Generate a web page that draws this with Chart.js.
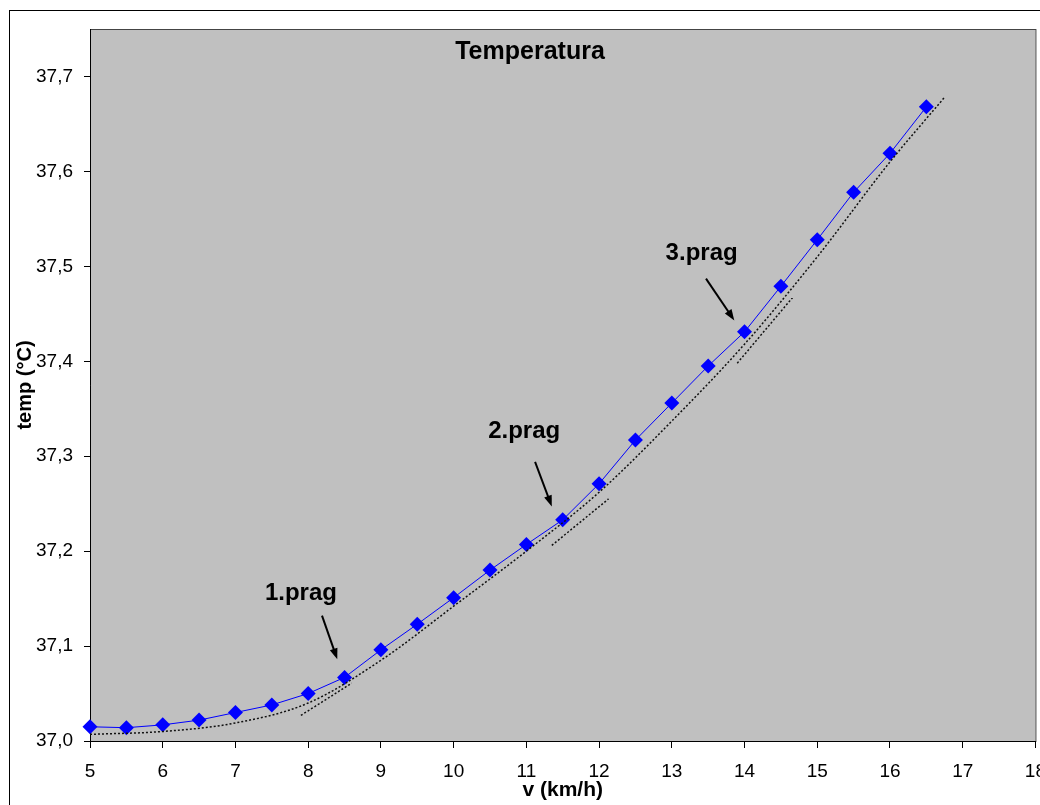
<!DOCTYPE html>
<html>
<head>
<meta charset="utf-8">
<script src="https://cdn.jsdelivr.net/npm/chart.js@4/dist/chart.umd.min.js"></script>
<style>
  html, body { margin: 0; padding: 0; background: #fff; overflow: hidden; width: 1040px; height: 805px; }
  canvas { display: block; }
</style>
</head>
<body>
<canvas id="chart" width="1058" height="805"></canvas>
<script>
// speed (km/h) and measured temperature
var speeds = [5, 5.5, 6, 6.5, 7, 7.5, 8, 8.5, 9, 9.5, 10, 10.5, 11, 11.5, 12, 12.5, 13, 13.5, 14, 14.5, 15, 15.5, 16, 16.5];
var temps = [37.015, 37.014, 37.017, 37.022, 37.030, 37.038, 37.050, 37.067, 37.096, 37.123, 37.151, 37.180, 37.207, 37.233, 37.271, 37.317, 37.356, 37.395, 37.431, 37.479, 37.528, 37.578, 37.619, 37.668];

// polynomial trend line (dotted)
var trendX = [5, 6, 7, 8, 9, 10, 11, 12, 13, 14, 15, 16, 16.75];
var trendY = [37.007, 37.010, 37.019, 37.040, 37.085, 37.142, 37.200, 37.262, 37.337, 37.418, 37.510, 37.610, 37.678];

// short tangent segments at each threshold
var seg1X = [7.9, 8.6], seg1Y = [37.027, 37.061];
var seg2X = [11.35, 12.13], seg2Y = [37.206, 37.255];
var seg3X = [13.9, 14.67], seg3Y = [37.398, 37.468];

var xTicks = [5, 6, 7, 8, 9, 10, 11, 12, 13, 14, 15, 16, 17, 18];
var yTicks = [37.0, 37.1, 37.2, 37.3, 37.4, 37.5, 37.6, 37.7];

// threshold labels: text position, arrow start, arrow tip (data units)
var pragLabels = ['1.prag', '2.prag', '3.prag'];
var pragText = [[7.90, 37.155], [10.97, 37.326], [13.41, 37.514]];
var pragFrom = [[8.19, 37.132], [11.12, 37.294], [13.47, 37.487]];
var pragTo = [[8.40, 37.086], [11.35, 37.247], [13.86, 37.443]];

function pts(xs, ys) {
    return xs.map(function (x, i) { return {x: x, y: ys[i]}; });
}

function dotted(data) {
    return {
        data: data, borderColor: '#111', borderWidth: 1.5, borderDash: [2, 2],
        pointRadius: 0, fill: false, tension: 0.4, cubicInterpolationMode: 'monotone'
    };
}

var FONT = '"Liberation Sans", Arial, sans-serif';

var decor = {
    id: 'decor',
    beforeDraw: function (chart) {
        var ctx = chart.ctx, a = chart.chartArea;
        ctx.save();
        ctx.fillStyle = '#fff';
        ctx.fillRect(0, 0, chart.width, chart.height);
        ctx.strokeStyle = '#000';
        ctx.lineWidth = 1;
        ctx.strokeRect(9.5, 10.5, 2000, 2000);
        ctx.fillStyle = '#c0c0c0';
        ctx.fillRect(a.left, a.top, a.right - a.left, a.bottom - a.top);
        ctx.strokeStyle = '#444';
        ctx.strokeRect(a.left + 0.5, a.top + 0.5, a.right - a.left, a.bottom - a.top);
        ctx.restore();
    },
    afterDatasetsDraw: function (chart) {
        var ctx = chart.ctx, xs = chart.scales.x, ys = chart.scales.y, a = chart.chartArea;
        ctx.save();
        ctx.fillStyle = '#000';
        ctx.textAlign = 'center';
        ctx.textBaseline = 'middle';
        ctx.font = 'bold 25px ' + FONT;
        ctx.fillText('Temperatura', 530, 52);
        ctx.font = 'bold 21px ' + FONT;
        ctx.fillText('v (km/h)', (a.left + a.right) / 2, 790);
        ctx.font = 'bold 24px ' + FONT;
        for (var i = 0; i < pragLabels.length; i++) {
            ctx.fillText(pragLabels[i], xs.getPixelForValue(pragText[i][0]), ys.getPixelForValue(pragText[i][1]));
            var x1 = xs.getPixelForValue(pragFrom[i][0]), y1 = ys.getPixelForValue(pragFrom[i][1]);
            var x2 = xs.getPixelForValue(pragTo[i][0]), y2 = ys.getPixelForValue(pragTo[i][1]);
            var ang = Math.atan2(y2 - y1, x2 - x1);
            ctx.strokeStyle = '#000';
            ctx.lineWidth = 2;
            ctx.beginPath();
            ctx.moveTo(x1, y1);
            ctx.lineTo(x2 - 6 * Math.cos(ang), y2 - 6 * Math.sin(ang));
            ctx.stroke();
            ctx.beginPath();
            ctx.moveTo(x2, y2);
            ctx.lineTo(x2 - 11 * Math.cos(ang) + 4 * Math.sin(ang), y2 - 11 * Math.sin(ang) - 4 * Math.cos(ang));
            ctx.lineTo(x2 - 11 * Math.cos(ang) - 4 * Math.sin(ang), y2 - 11 * Math.sin(ang) + 4 * Math.cos(ang));
            ctx.closePath();
            ctx.fill();
        }
        ctx.restore();
    }
};

var ctx = document.getElementById('chart').getContext('2d');
var chart = new Chart(ctx, {
    type: 'line',
    data: {
        datasets: [
            dotted(pts(trendX, trendY)),
            dotted(pts(seg1X, seg1Y)),
            dotted(pts(seg2X, seg2Y)),
            dotted(pts(seg3X, seg3Y)),
            {
                label: 'temp',
                data: pts(speeds, temps),
                borderColor: '#0000ff', borderWidth: 1,
                backgroundColor: '#0000ff',
                pointStyle: 'rectRot', pointRadius: 7.5, pointBorderWidth: 0,
                tension: 0, fill: false, clip: false
            }
        ]
    },
    options: {
        responsive: false,
        animation: false,
        layout: {padding: {top: 29, right: 0, bottom: 0, left: 0}},
        plugins: {legend: {display: false}, tooltip: {enabled: false}, title: {display: false}},
        scales: {
            x: {
                type: 'linear', min: 5, max: 18,
                afterBuildTicks: function (s) { s.ticks = xTicks.map(function (v) { return {value: v}; }); },
                afterFit: function (s) { s.height = 64; },
                grid: {drawOnChartArea: false, drawTicks: true, tickLength: 7, color: '#000'},
                border: {color: '#000', width: 1},
                ticks: {color: '#000', font: {family: FONT, size: 19}, padding: 12, maxRotation: 0}
            },
            y: {
                type: 'linear', min: 37.0, max: 37.75,
                afterBuildTicks: function (s) { s.ticks = yTicks.map(function (v) { return {value: v}; }); },
                afterFit: function (s) { s.width = 90; },
                grid: {drawOnChartArea: false, drawTicks: true, tickLength: 6, color: '#000'},
                border: {color: '#000', width: 1},
                ticks: {
                    color: '#000', font: {family: FONT, size: 19}, padding: 11,
                    callback: function (v) { return v.toFixed(1).replace('.', ','); }
                },
                title: {display: true, text: 'temp (°C)', color: '#000', font: {family: FONT, size: 20, weight: 'bold'}, padding: {top: 13, bottom: 0}}
            }
        }
    },
    plugins: [decor]
});
</script>
</body>
</html>
